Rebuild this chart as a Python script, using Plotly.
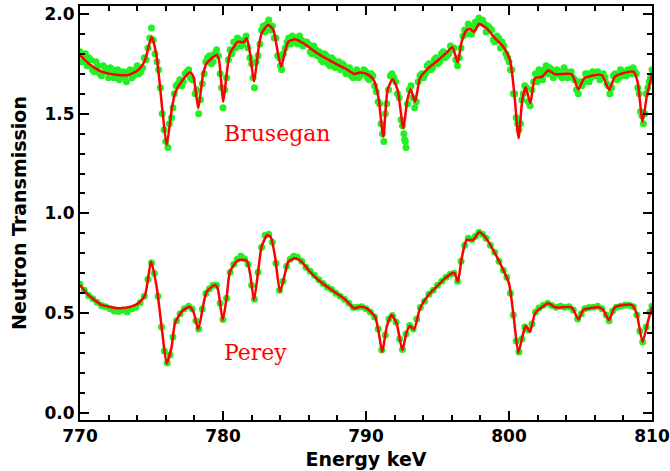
import plotly.graph_objects as go

# ---- Fit curves (red) ----
perey_fit_E = [770.0, 770.58, 771.52, 772.68, 773.38, 774.08, 774.55, 774.97, 775.36, 775.76, 776.06, 776.41,
               776.64, 777.11, 777.64, 777.93, 778.27, 778.62, 778.86, 779.44, 779.63, 779.98, 780.26, 780.49,
               781.07, 781.66, 781.89, 782.17, 782.47, 782.70, 783.10, 783.35, 783.64, 783.99, 784.34, 784.57,
               785.03, 785.50, 785.97, 786.66, 787.60, 788.53, 789.18, 789.58, 790.05, 790.63, 790.86, 791.14,
               791.45, 791.79, 792.14, 792.54, 792.85, 793.08, 793.36, 793.78, 794.36, 795.06, 795.52, 796.04,
               796.20, 796.43, 796.69, 797.04, 797.50, 797.90, 798.32, 799.02, 799.60, 800.00, 800.30, 800.65,
               800.96, 801.17, 801.47, 801.82, 802.29, 802.75, 803.22, 804.38, 804.85, 805.20, 806.24, 806.59,
               806.99, 807.41, 808.58, 808.92, 809.34, 809.74, 810.0]
perey_fit_T = [0.641, 0.591, 0.541, 0.524, 0.529, 0.549, 0.591, 0.758, 0.632, 0.399, 0.248, 0.332,
               0.449, 0.507, 0.532, 0.507, 0.419, 0.541, 0.607, 0.641, 0.624, 0.465, 0.582, 0.708,
               0.766, 0.763, 0.700, 0.566, 0.716, 0.833, 0.892, 0.880, 0.783, 0.607, 0.700, 0.758,
               0.775, 0.758, 0.716, 0.666, 0.616, 0.569, 0.524, 0.532, 0.524, 0.482, 0.415, 0.306,
               0.432, 0.490, 0.449, 0.315, 0.407, 0.435, 0.419, 0.524, 0.591, 0.641, 0.674, 0.700,
               0.700, 0.658, 0.775, 0.867, 0.867, 0.905, 0.883, 0.800, 0.716, 0.649, 0.499, 0.301,
               0.390, 0.435, 0.407, 0.499, 0.529, 0.549, 0.529, 0.529, 0.469, 0.516, 0.529, 0.516,
               0.465, 0.529, 0.541, 0.499, 0.357, 0.465, 0.532]

brus_fit_E = [770.0, 770.58, 771.52, 772.68, 773.38, 774.08, 774.55, 775.01, 775.36, 775.76, 776.06, 776.41,
              776.64, 777.11, 777.69, 777.93, 778.27, 778.62, 778.86, 779.56, 779.72, 780.02, 780.26, 780.49,
              781.07, 781.42, 781.66, 781.89, 782.17, 782.47, 782.70, 783.17, 783.52, 783.76, 784.06, 784.34,
              784.57, 785.03, 785.62, 786.43, 787.60, 788.64, 789.18, 789.58, 790.05, 790.51, 790.86, 791.21,
              791.51, 791.86, 792.21, 792.61, 792.89, 793.12, 793.43, 793.78, 794.36, 795.06, 795.64, 796.04,
              796.41, 796.69, 797.04, 797.30, 797.57, 797.90, 798.44, 799.02, 799.60, 800.07, 800.37, 800.67,
              800.93, 801.17, 801.49, 801.82, 802.33, 802.75, 803.22, 804.38, 804.85, 805.27, 806.48, 807.01,
              807.41, 808.69, 808.99, 809.34, 809.63, 809.98]
brus_fit_T = [1.794, 1.753, 1.711, 1.694, 1.694, 1.719, 1.769, 1.886, 1.786, 1.519, 1.343, 1.519,
              1.602, 1.661, 1.706, 1.686, 1.527, 1.703, 1.753, 1.794, 1.769, 1.560, 1.703, 1.803,
              1.861, 1.858, 1.878, 1.803, 1.661, 1.819, 1.903, 1.945, 1.920, 1.836, 1.736, 1.811,
              1.861, 1.873, 1.853, 1.811, 1.761, 1.723, 1.699, 1.706, 1.699, 1.673, 1.585, 1.385,
              1.619, 1.673, 1.619, 1.427, 1.569, 1.622, 1.560, 1.678, 1.728, 1.769, 1.806, 1.833,
              1.758, 1.861, 1.920, 1.923, 1.911, 1.950, 1.928, 1.878, 1.836, 1.769, 1.602, 1.377,
              1.569, 1.632, 1.552, 1.678, 1.686, 1.716, 1.698, 1.698, 1.622, 1.678, 1.694, 1.619,
              1.686, 1.711, 1.661, 1.460, 1.585, 1.694]

# ---- Measured data (green dots) ----
perey_dat_E = [770.0, 770.3, 770.6, 770.9, 771.2, 771.5, 771.8, 772.1, 772.4, 772.7, 773.0, 773.3, 773.6, 773.9,
               774.2, 774.5, 774.75, 775.0, 775.2, 775.45, 775.7, 775.9, 776.1, 776.3, 776.5, 776.75, 777.0,
               777.3, 777.6, 777.85, 778.1, 778.3, 778.55, 778.8, 779.05, 779.3, 779.55, 779.8, 780.0, 780.25,
               780.5, 780.75, 781.0, 781.25, 781.5, 781.75, 782.0, 782.2, 782.45, 782.7, 782.95, 783.2, 783.45,
               783.7, 783.95, 784.2, 784.45, 784.7, 784.95, 785.2, 785.5, 785.8, 786.1, 786.4, 786.7, 787.0,
               787.3, 787.6, 787.9, 788.2, 788.5, 788.8, 789.1, 789.4, 789.7, 790.0, 790.3, 790.6, 790.85,
               791.1, 791.35, 791.6, 791.85, 792.1, 792.35, 792.55, 792.8, 793.05, 793.3, 793.55, 793.8, 794.1,
               794.4, 794.7, 795.0, 795.3, 795.6, 795.9, 796.15, 796.4, 796.65, 796.9, 797.15, 797.4, 797.65,
               797.9, 798.15, 798.4, 798.7, 799.0, 799.3, 799.6, 799.85, 800.1, 800.3, 800.5, 800.7, 800.9,
               801.1, 801.35, 801.6, 801.85, 802.1, 802.4, 802.7, 803.0, 803.3, 803.6, 803.9, 804.2, 804.5,
               804.8, 805.05, 805.3, 805.6, 805.9, 806.2, 806.5, 806.8, 807.0, 807.25, 807.5, 807.8, 808.1,
               808.4, 808.7, 808.95, 809.15, 809.35, 809.6, 809.85, 810.0]
perey_dat_T = [0.645, 0.615, 0.588, 0.572, 0.555, 0.538, 0.532, 0.522, 0.510, 0.508, 0.515, 0.505, 0.520, 0.530,
               0.552, 0.585, 0.670, 0.752, 0.700, 0.585, 0.430, 0.310, 0.250, 0.290, 0.380, 0.462, 0.497,
               0.522, 0.535, 0.520, 0.462, 0.420, 0.520, 0.598, 0.622, 0.640, 0.640, 0.550, 0.468, 0.575,
               0.705, 0.745, 0.770, 0.785, 0.772, 0.745, 0.640, 0.570, 0.705, 0.830, 0.890, 0.895, 0.855,
               0.750, 0.615, 0.660, 0.735, 0.770, 0.785, 0.780, 0.760, 0.730, 0.710, 0.690, 0.667, 0.648,
               0.630, 0.618, 0.600, 0.585, 0.570, 0.550, 0.528, 0.530, 0.532, 0.522, 0.505, 0.480, 0.420,
               0.315, 0.390, 0.470, 0.488, 0.455, 0.370, 0.318, 0.395, 0.438, 0.420, 0.470, 0.528, 0.560,
               0.595, 0.615, 0.640, 0.660, 0.680, 0.695, 0.700, 0.660, 0.760, 0.840, 0.875, 0.868, 0.885,
               0.905, 0.895, 0.875, 0.840, 0.805, 0.760, 0.715, 0.680, 0.600, 0.490, 0.360, 0.305, 0.370,
               0.430, 0.415, 0.445, 0.505, 0.525, 0.540, 0.550, 0.538, 0.530, 0.535, 0.530, 0.532, 0.515,
               0.470, 0.495, 0.522, 0.528, 0.530, 0.535, 0.522, 0.490, 0.462, 0.510, 0.530, 0.535, 0.540,
               0.540, 0.532, 0.490, 0.410, 0.355, 0.430, 0.505, 0.535]

brus_dat_E = [770.0, 770.25, 770.5, 770.75, 771.0, 771.25, 771.5, 771.75, 772.0, 772.25, 772.5, 772.75, 773.0,
              773.25, 773.5, 773.75, 774.0, 774.25, 774.5, 774.75, 775.0, 775.25, 775.5, 775.75, 776.0, 776.15,
              776.4, 776.6, 776.85, 777.1, 777.35, 777.6, 777.85, 778.05, 778.3, 778.55, 778.8, 779.05, 779.3,
              779.55, 779.8, 780.0, 780.25, 780.5, 780.75, 781.0, 781.25, 781.5, 781.75, 782.0, 782.2, 782.45,
              782.7, 782.95, 783.2, 783.45, 783.7, 783.95, 784.1, 784.35, 784.6, 784.85, 785.1, 785.35, 785.6,
              785.85, 786.1, 786.35, 786.6, 786.85, 787.1, 787.35, 787.6, 787.85, 788.1, 788.35, 788.6, 788.85,
              789.1, 789.35, 789.6, 789.85, 790.1, 790.35, 790.6, 790.85, 791.05, 791.25, 791.45, 791.7, 791.95,
              792.2, 792.45, 792.65, 792.75, 792.8, 792.9, 793.15, 793.4, 793.65, 793.9, 794.15, 794.4, 794.65,
              794.9, 795.15, 795.4, 795.65, 795.9, 796.15, 796.4, 796.65, 796.9, 797.15, 797.4, 797.65, 797.9,
              798.15, 798.4, 798.65, 798.9, 799.15, 799.4, 799.65, 799.9, 800.1, 800.3, 800.5, 800.7, 800.9,
              801.1, 801.35, 801.6, 801.85, 802.1, 802.35, 802.6, 802.85, 803.1, 803.35, 803.6, 803.85, 804.1,
              804.35, 804.6, 804.85, 805.1, 805.35, 805.6, 805.85, 806.1, 806.35, 806.6, 806.85, 807.05, 807.3,
              807.55, 807.8, 808.05, 808.3, 808.55, 808.8, 809.0, 809.2, 809.4, 809.6, 809.8, 810.0]
brus_dat_T = [1.81, 1.79, 1.74, 1.77, 1.71, 1.74, 1.69, 1.73, 1.68, 1.72, 1.70, 1.67, 1.71,
              1.66, 1.72, 1.69, 1.74, 1.71, 1.78, 1.83, 1.93, 1.80, 1.72, 1.50, 1.36, 1.33,
              1.48, 1.60, 1.65, 1.64, 1.70, 1.72, 1.67, 1.60, 1.50, 1.65, 1.76, 1.79, 1.76,
              1.82, 1.70, 1.53, 1.68, 1.82, 1.86, 1.88, 1.84, 1.87, 1.83, 1.75, 1.63, 1.79,
              1.92, 1.91, 1.97, 1.94, 1.88, 1.78, 1.72, 1.83, 1.88, 1.89, 1.86, 1.89, 1.84,
              1.86, 1.81, 1.84, 1.79, 1.77, 1.80, 1.75, 1.78, 1.73, 1.76, 1.75, 1.70, 1.73,
              1.68, 1.72, 1.69, 1.72, 1.68, 1.70, 1.64, 1.56, 1.45, 1.36, 1.55, 1.69, 1.68,
              1.60, 1.47, 1.40, 1.36, 1.33, 1.55, 1.64, 1.53, 1.66, 1.70, 1.70, 1.75, 1.73,
              1.78, 1.76, 1.81, 1.79, 1.84, 1.83, 1.74, 1.83, 1.92, 1.95, 1.90, 1.96, 1.98,
              1.97, 1.91, 1.93, 1.87, 1.89, 1.83, 1.84, 1.78, 1.72, 1.60, 1.48, 1.42, 1.57,
              1.64, 1.56, 1.62, 1.70, 1.72, 1.67, 1.74, 1.73, 1.68, 1.72, 1.69, 1.73, 1.68,
              1.71, 1.67, 1.60, 1.64, 1.70, 1.66, 1.71, 1.70, 1.67, 1.70, 1.65, 1.60, 1.69,
              1.67, 1.72, 1.69, 1.72, 1.70, 1.71, 1.63, 1.51, 1.45, 1.60, 1.66, 1.72]

brus_dat2_E = [770.12, 770.38, 770.62, 770.88, 771.12, 771.38, 771.62, 771.88, 772.12, 772.38, 772.62, 772.88,
               773.12, 773.38, 773.62, 773.88, 774.12, 774.38, 774.62, 774.88, 775.12, 775.38, 775.62, 775.88,
               776.25, 776.5, 776.72, 776.98, 777.22, 777.48, 777.72, 778.15, 778.42, 778.68, 778.92, 779.18,
               779.42, 779.68, 779.9, 780.12, 780.38, 780.62, 780.88, 781.12, 781.38, 781.62, 781.88, 782.1,
               782.32, 782.58, 782.82, 783.08, 783.32, 783.58, 783.82, 784.02, 784.22, 784.48, 784.72, 784.98,
               785.22, 785.48, 785.72, 785.98, 786.22, 786.48, 786.72, 786.98, 787.22, 787.48, 787.72, 787.98,
               788.22, 788.48, 788.72, 788.98, 789.22, 789.48, 789.72, 789.98, 790.22, 790.48, 790.72, 790.95,
               791.15, 791.35, 791.58, 791.82, 792.08, 792.32, 792.55, 792.7, 793.02, 793.28, 793.52, 793.78,
               794.02, 794.28, 794.52, 794.78, 795.02, 795.28, 795.52, 795.78, 796.02, 796.28, 796.52, 796.78,
               797.02, 797.28, 797.52, 797.78, 798.02, 798.28, 798.52, 798.78, 799.02, 799.28, 799.52, 799.78,
               800.0, 800.2, 800.4, 800.6, 800.8, 801.0, 801.22, 801.48, 801.72, 801.98, 802.22, 802.48,
               802.72, 802.98, 803.22, 803.48, 803.72, 803.98, 804.22, 804.48, 804.72, 804.98, 805.22, 805.48,
               805.72, 805.98, 806.22, 806.48, 806.72, 806.95, 807.18, 807.42, 807.68, 807.92, 808.18, 808.42,
               808.68, 808.9, 809.1, 809.3, 809.5, 809.7, 809.9]
brus_dat2_T = [1.76, 1.80, 1.78, 1.72, 1.76, 1.70, 1.74, 1.71, 1.73, 1.68, 1.72, 1.70,
               1.68, 1.71, 1.68, 1.72, 1.70, 1.73, 1.77, 1.88, 1.87, 1.76, 1.63, 1.42,
               1.45, 1.53, 1.64, 1.67, 1.66, 1.71, 1.68, 1.62, 1.57, 1.70, 1.78, 1.75,
               1.80, 1.79, 1.63, 1.62, 1.77, 1.80, 1.83, 1.87, 1.85, 1.89, 1.78, 1.68,
               1.76, 1.85, 1.94, 1.95, 1.92, 1.88, 1.79, 1.74, 1.80, 1.86, 1.85, 1.88,
               1.85, 1.87, 1.86, 1.85, 1.80, 1.82, 1.81, 1.76, 1.79, 1.74, 1.77, 1.74,
               1.72, 1.74, 1.71, 1.69, 1.71, 1.68, 1.70, 1.71, 1.67, 1.69, 1.61, 1.55,
               1.40, 1.50, 1.62, 1.70, 1.66, 1.58, 1.44, 1.37, 1.62, 1.58, 1.56, 1.69,
               1.68, 1.74, 1.72, 1.77, 1.75, 1.80, 1.78, 1.80, 1.82, 1.77, 1.78, 1.89,
               1.90, 1.94, 1.93, 1.95, 1.96, 1.95, 1.94, 1.92, 1.86, 1.88, 1.86, 1.80,
               1.76, 1.72, 1.60, 1.45, 1.45, 1.60, 1.63, 1.54, 1.66, 1.66, 1.70, 1.72,
               1.70, 1.72, 1.70, 1.71, 1.68, 1.71, 1.70, 1.68, 1.62, 1.66, 1.66, 1.70,
               1.68, 1.69, 1.71, 1.68, 1.68, 1.64, 1.63, 1.70, 1.68, 1.71, 1.69, 1.72,
               1.73, 1.70, 1.60, 1.49, 1.50, 1.63, 1.68]

x_ticks = [770, 780, 790, 800, 810]
y_ticks = [0.0, 0.5, 1.0, 1.5, 2.0]
labels = ["Brusegan", "Perey"]

green = "#22f022"
red = "#ff0000"

fig = go.Figure()
for E, T in [(brus_dat_E, brus_dat_T), (brus_dat2_E, brus_dat2_T), (perey_dat_E, perey_dat_T)]:
    fig.add_trace(go.Scatter(x=E, y=T, mode="markers",
                             marker=dict(color=green, size=7, line=dict(width=0)),
                             hoverinfo="skip", showlegend=False))
for E, T in [(brus_fit_E, brus_fit_T), (perey_fit_E, perey_fit_T)]:
    fig.add_trace(go.Scatter(x=E, y=T, mode="lines",
                             line=dict(color=red, width=2.5, shape="spline", smoothing=0.6),
                             hoverinfo="skip", showlegend=False))

fig.add_annotation(x=779.9, y=1.40, text=labels[0], showarrow=False, xanchor="left", yanchor="middle",
                   font=dict(family="DejaVu Serif", size=22, color=red))
fig.add_annotation(x=779.9, y=0.30, text=labels[1], showarrow=False, xanchor="left", yanchor="middle",
                   font=dict(family="DejaVu Serif", size=22, color=red))

title_font = dict(family="DejaVu Sans", size=19, color="black", weight="bold")
axis_common = dict(showline=True, linecolor="black", linewidth=2, mirror="allticks",
                   ticks="inside", ticklen=9, tickwidth=2, tickcolor="black",
                   showgrid=False, zeroline=False, automargin=False, ticklabeloverflow="allow",
                   tickfont=dict(family="DejaVu Sans", size=17, color="black", weight="bold"),
                   minor=dict(ticks="inside", ticklen=5, tickwidth=2, tickcolor="black", showgrid=False))

fig.update_xaxes(range=[770, 810], tickvals=x_ticks, ticktext=[str(v) for v in x_ticks],
                 minor_dtick=2,
                 title=dict(text="Energy keV", standoff=7, font=title_font),
                 **axis_common)
fig.update_yaxes(range=[-0.036, 2.040], tickvals=y_ticks, ticktext=[f"{v:.1f}" for v in y_ticks],
                 minor_dtick=0.1, minor_tick0=0,
                 title=dict(text="Neutron Transmission", standoff=13, font=title_font),
                 **axis_common)

fig.update_layout(width=670, height=471, margin=dict(l=80, r=18, t=6, b=51),
                  plot_bgcolor="white", paper_bgcolor="white")

fig.write_html("out.html", config={"displayModeBar": False},
               post_script="document.body.style.margin='0';document.body.style.overflow='hidden';")
